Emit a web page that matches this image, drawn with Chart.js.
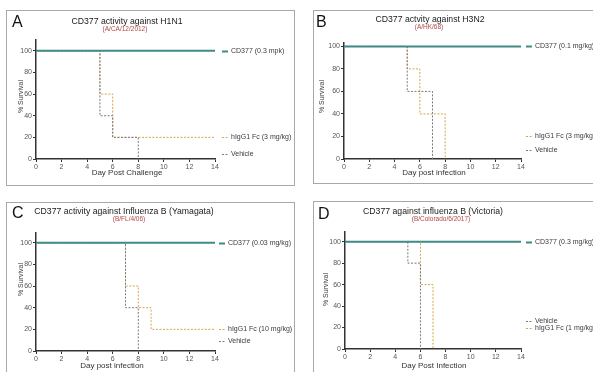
<!DOCTYPE html>
<html><head><meta charset="utf-8">
<script src="https://cdn.jsdelivr.net/npm/chart.js@4/dist/chart.umd.min.js"></script>
<style>
html,body{margin:0;padding:0;background:#fff;}
body{width:593px;height:372px;position:relative;overflow:hidden;font-family:"Liberation Sans",Arial,sans-serif;}
.frame{position:absolute;border:1px solid #a8a8a8;box-sizing:border-box;}
canvas{position:absolute;}
.t{position:absolute;white-space:nowrap;transform:translate(-50%,-50%);line-height:1;}
.letter{position:absolute;font-size:16px;line-height:1;color:#111;}
.title{font-size:8.7px;color:#1a1a1a;}
.sub{font-size:6.5px;color:#b04848;}
.ax{font-size:8px;color:#333;}
.yt{position:absolute;width:10px;height:60px;display:flex;align-items:center;justify-content:center;}
.yt span{writing-mode:vertical-rl;transform:rotate(180deg);white-space:nowrap;line-height:1;font-size:7px;color:#444;}
</style></head><body>

<div class="frame" style="left:6px;top:10px;width:289px;height:176px"></div>
<div class="frame" style="left:313px;top:10px;width:300px;height:174px"></div>
<div class="frame" style="left:6px;top:202px;width:289px;height:200px"></div>
<div class="frame" style="left:313px;top:201px;width:300px;height:200px"></div>

<canvas id="cA" width="296" height="186" style="left:0;top:0"></canvas>
<canvas id="cB" width="297" height="186" style="left:296px;top:0"></canvas>
<canvas id="cC" width="296" height="186" style="left:0;top:186px"></canvas>
<canvas id="cD" width="297" height="186" style="left:296px;top:186px"></canvas>

<div class="letter" style="left:12px;top:14px">A</div>
<div class="t title" style="left:127px;top:21px">CD377 activity against H1N1</div>
<div class="t sub" style="left:125px;top:29px">(A/CA/12/2012)</div>
<div class="t ax" style="left:127px;top:173px">Day Post Challenge</div>
<div class="yt" style="left:15px;top:67px"><span>% Survival</span></div>

<div class="letter" style="left:316px;top:14px">B</div>
<div class="t title" style="left:430px;top:19px">CD377 actvity against H3N2</div>
<div class="t sub" style="left:429px;top:26.5px">(A/HK/68)</div>
<div class="t ax" style="left:434px;top:173px">Day post infection</div>
<div class="yt" style="left:316px;top:67px"><span>% Survival</span></div>

<div class="letter" style="left:12px;top:205px">C</div>
<div class="t title" style="left:124px;top:211px">CD377 activity against Influenza B (Yamagata)</div>
<div class="t sub" style="left:129px;top:219px">(B/FL/4/06)</div>
<div class="t ax" style="left:112px;top:366px">Day post infection</div>
<div class="yt" style="left:15px;top:250px"><span>% Survival</span></div>

<div class="letter" style="left:318px;top:206px">D</div>
<div class="t title" style="left:433px;top:211px">CD377 against influenza B (Victoria)</div>
<div class="t sub" style="left:441px;top:219px">(B/Colorado/6/2017)</div>
<div class="t ax" style="left:434px;top:366px">Day Post Infection</div>
<div class="yt" style="left:320px;top:260px"><span>% Survival</span></div>

<script>
// ---- tick labels ----
const xTicks = [0, 2, 4, 6, 8, 10, 12, 14];
const yTicks = [0, 20, 40, 60, 80, 100];

// ---- Panel A: H1N1 ----
const aLabels = ['CD377 (0.3 mpk)', 'hIgG1 Fc (3 mg/kg)', 'Vehicle'];
const aCD377Day = [0, 14];          const aCD377Surv = [100, 100];
const aFcDay = [0, 5, 6, 14];       const aFcSurv = [100, 60, 20, 20];
const aVehDay = [0, 5, 6, 8];       const aVehSurv = [100, 40, 20, 0];

// ---- Panel B: H3N2 ----
const bLabels = ['CD377 (0.1 mg/kg)', 'hIgG1 Fc (3 mg/kg)', 'Vehicle'];
const bCD377Day = [0, 14];          const bCD377Surv = [100, 100];
const bFcDay = [0, 5, 6, 8];        const bFcSurv = [100, 80, 40, 0];
const bVehDay = [0, 5, 7];          const bVehSurv = [100, 60, 0];

// ---- Panel C: Influenza B (Yamagata) ----
const cLabels = ['CD377 (0.03 mg/kg)', 'hIgG1 Fc (10 mg/kg)', 'Vehicle'];
const cCD377Day = [0, 14];          const cCD377Surv = [100, 100];
const cFcDay = [0, 7, 8, 9, 14];    const cFcSurv = [100, 60, 40, 20, 20];
const cVehDay = [0, 7, 8];          const cVehSurv = [100, 40, 0];

// ---- Panel D: Influenza B (Victoria) ----
const dLabels = ['CD377 (0.3 mg/kg)', 'Vehicle', 'hIgG1 Fc (1 mg/kg)'];
const dCD377Day = [0, 14];          const dCD377Surv = [100, 100];
const dVehDay = [0, 5, 6];          const dVehSurv = [100, 80, 0];
const dFcDay = [0, 6, 7];           const dFcSurv = [100, 60, 0];

function pts(xs, ys) { return xs.map((x, i) => ({ x: x, y: ys[i] })); }

const TEAL = '#3f8b87', ORANGE = '#d6a449', GRAY = '#7a7a7a';
const styles = {
  cd: { borderColor: TEAL, borderWidth: 2, borderDash: [], stepped: false, order: 0 },
  fc: { borderColor: ORANGE, borderWidth: 1, borderDash: [2, 1.5], stepped: 'before', order: 2 },
  veh: { borderColor: GRAY, borderWidth: 1, borderDash: [2, 1.5], stepped: 'before', order: 1 }
};

const sideLegend = {
  id: 'sideLegend',
  afterDraw(chart, args, opts) {
    const ctx = chart.ctx, ys = chart.scales.y;
    ctx.save();
    ctx.font = '7px "Liberation Sans", Arial, sans-serif';
    ctx.textBaseline = 'middle';
    chart.data.datasets.forEach((ds, i) => {
      const y = Math.round(ys.getPixelForValue(opts.at[i])) + 0.5;
      const x0 = chart.chartArea.right + opts.gap;
      ctx.strokeStyle = ds.borderColor;
      ctx.lineWidth = ds.borderWidth;
      ctx.setLineDash(ds.borderDash || []);
      ctx.beginPath(); ctx.moveTo(x0, y); ctx.lineTo(x0 + opts.sample, y); ctx.stroke();
      ctx.setLineDash([]);
      ctx.fillStyle = '#3a3a3a';
      ctx.fillText(ds.label, x0 + opts.sample + opts.textGap, y);
    });
    ctx.restore();
  }
};

function panel(id, sets, L) {
  const datasets = sets.map(s => Object.assign({
    label: s.label, data: pts(s.x, s.y), pointRadius: 0, fill: false, tension: 0
  }, styles[s.kind]));
  const H = 186;
  new Chart(document.getElementById(id), {
    type: 'line',
    data: { datasets: datasets },
    plugins: [sideLegend],
    options: {
      responsive: false, animation: false, devicePixelRatio: 1,
      layout: { padding: { left: 0, bottom: 0, top: L.top, right: L.right } },
      plugins: { legend: { display: false }, tooltip: { enabled: false },
        sideLegend: { at: L.legendAt, gap: L.gap, sample: 6, textGap: 3 } },
      scales: {
        x: {
          type: 'linear', min: 0, max: 14,
          afterBuildTicks: s => { s.ticks = xTicks.map(v => ({ value: v })); },
          afterFit: s => { s.height = H - L.bottom; },
          grid: { display: true, drawOnChartArea: false, drawTicks: true, tickLength: 3, color: '#333', lineWidth: 1 },
          border: { display: true, color: '#333', width: 1.5 },
          ticks: { font: { size: 7, family: '"Liberation Sans", Arial' }, color: '#555', padding: 1, maxRotation: 0 }
        },
        y: {
          type: 'linear', min: 0, max: L.ymax,
          afterBuildTicks: s => { s.ticks = yTicks.map(v => ({ value: v })); },
          afterFit: s => { s.width = L.left; },
          grid: { display: true, drawOnChartArea: false, drawTicks: true, tickLength: 3, color: '#333', lineWidth: 1 },
          border: { display: true, color: '#333', width: 1.5 },
          ticks: { font: { size: 7, family: '"Liberation Sans", Arial' }, color: '#555', padding: 1 }
        }
      }
    }
  });
}

panel('cA', [
  { label: aLabels[0], x: aCD377Day, y: aCD377Surv, kind: 'cd' },
  { label: aLabels[1], x: aFcDay, y: aFcSurv, kind: 'fc' },
  { label: aLabels[2], x: aVehDay, y: aVehSurv, kind: 'veh' }
], { left: 36, right: 296 - 215, top: 40, bottom: 159, ymax: 110, legendAt: [100, 20, 5], gap: 7 });

panel('cB', [
  { label: bLabels[0], x: bCD377Day, y: bCD377Surv, kind: 'cd' },
  { label: bLabels[1], x: bFcDay, y: bFcSurv, kind: 'fc' },
  { label: bLabels[2], x: bVehDay, y: bVehSurv, kind: 'veh' }
], { left: 48, right: 297 - 225, top: 43, bottom: 159, ymax: 103, legendAt: [100, 20, 8], gap: 5 });

panel('cC', [
  { label: cLabels[0], x: cCD377Day, y: cCD377Surv, kind: 'cd' },
  { label: cLabels[1], x: cFcDay, y: cFcSurv, kind: 'fc' },
  { label: cLabels[2], x: cVehDay, y: cVehSurv, kind: 'veh' }
], { left: 36, right: 296 - 215, top: 47, bottom: 165, ymax: 109, legendAt: [100, 20, 9], gap: 4 });

panel('cD', [
  { label: dLabels[0], x: dCD377Day, y: dCD377Surv, kind: 'cd' },
  { label: dLabels[1], x: dVehDay, y: dVehSurv, kind: 'veh' },
  { label: dLabels[2], x: dFcDay, y: dFcSurv, kind: 'fc' }
], { left: 49, right: 297 - 225, top: 46, bottom: 163, ymax: 109, legendAt: [100, 26.5, 19.5], gap: 5 });
</script>
</body></html>
